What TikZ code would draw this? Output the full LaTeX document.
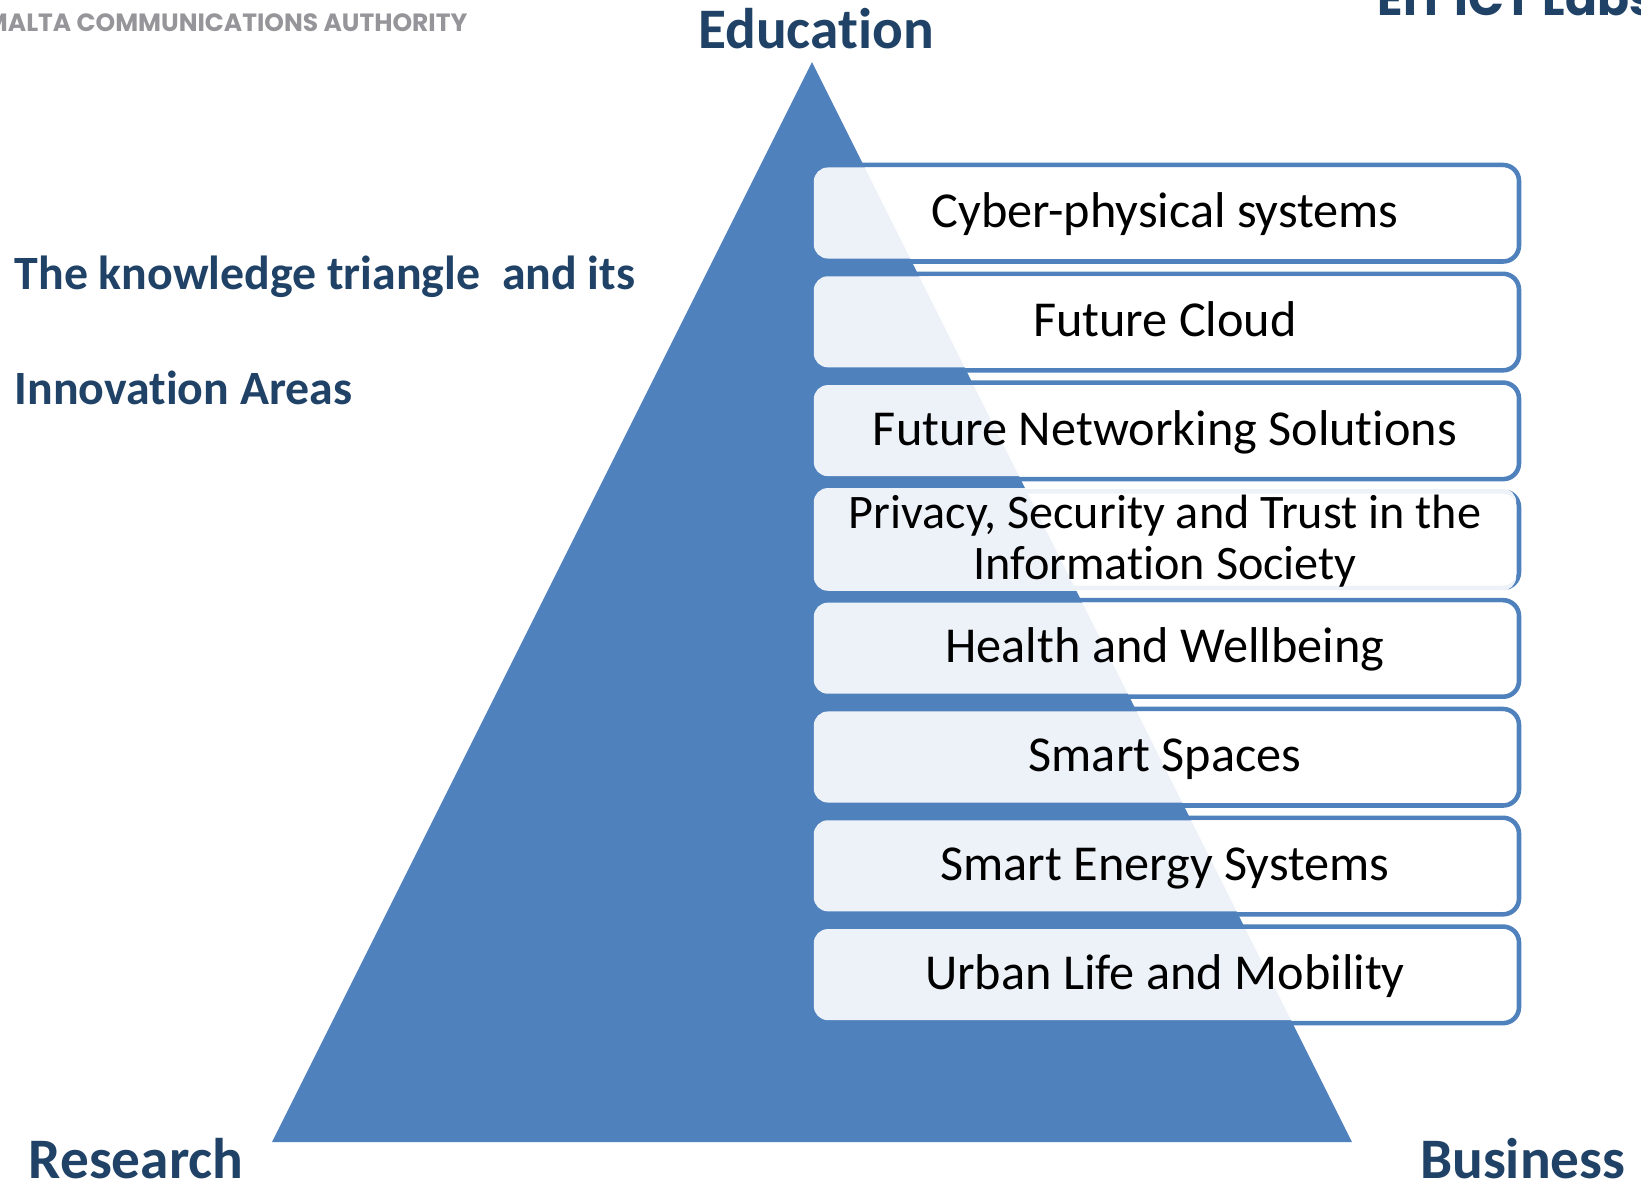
\documentclass[tikz,border=0pt]{standalone}
\usepackage{fontspec}
\setmainfont{Carlito}[Ligatures=NoCommon]
\newfontfamily\logofont{Poppins}
\definecolor{tribl}{HTML}{4F81BD}
\definecolor{navy}{HTML}{1F4266}
\definecolor{logogray}{HTML}{96969A}

\begin{document}
\begin{tikzpicture}[x=0.01cm,y=-0.01cm,
  area/.style={fill=white,fill opacity=0.9,text opacity=1,rounded corners=4pt,
    minimum width=7.02cm,minimum height=0.91cm,inner sep=0pt,align=center},
  rim/.style={draw=tribl,line width=1.3pt,rounded corners=4.5pt},
  corner/.style={text=navy,font=\fontsize{16.3}{19}\selectfont\bfseries,inner sep=0pt},
  heading/.style={text=navy,font=\fontsize{13.6}{16}\selectfont\bfseries,inner sep=0pt,anchor=base west}]
  \fill[white] (0,0) rectangle (1641,1181);
  \useasboundingbox (0,0) rectangle (1641,1181);

  % Define the triangle corners
  \coordinate (apex) at (812,62);
  \coordinate (baseL) at (272,1142);
  \coordinate (baseR) at (1352,1142);
  \fill[tribl] (apex) -- (baseL) -- (baseR) -- cycle;

  % Define nodes for the corner labels
  \node[corner,anchor=base] (edu) at (816,48) {Education};
  \node[corner,anchor=base west] (res) at (28,1178) {Research};
  \node[corner,anchor=base east] (bus) at (1626,1178) {Business};

  % Titles and logos
  \node[heading] (title1) at (14,289) {The knowledge triangle\ \ and its};
  \node[heading] (title2) at (14,404) {Innovation Areas};
  \node[text=logogray,font=\logofont\fontsize{7.1}{9}\selectfont\bfseries,inner sep=0pt,anchor=base east] (mca) at (468,31) {MALTA COMMUNICATIONS AUTHORITY};
  \node[text=navy,font=\logofont\fontsize{13.4}{16}\selectfont\bfseries,inner sep=0pt,anchor=base west] (eit) at (1377,15) {EIT ICT Labs};

  % Draw the innovation area boxes
  \foreach \txt/\sz [count=\i from 0] in {Cyber-physical systems/14.3, Future Cloud/14.3,
      Future Networking Solutions/14.3, {Privacy, Security and Trust in the\\Information Society}/13.7,
      Health and Wellbeing/14.3, Smart Spaces/14.3, Smart Energy Systems/14.3, Urban Life and Mobility/14.3}
  {
    \draw[rim] (826,{165+108.8*\i}) rectangle (1519,{261.5+108.8*\i});
    \node[area] (box\i) at (1165,{213+108.8*\i})
      {\fontsize{\sz}{14.6}\selectfont\raisebox{-1.2pt}[\height][\depth]{\begin{tabular}{@{}c@{}}\txt\end{tabular}}};
  }

\end{tikzpicture}
\end{document}
